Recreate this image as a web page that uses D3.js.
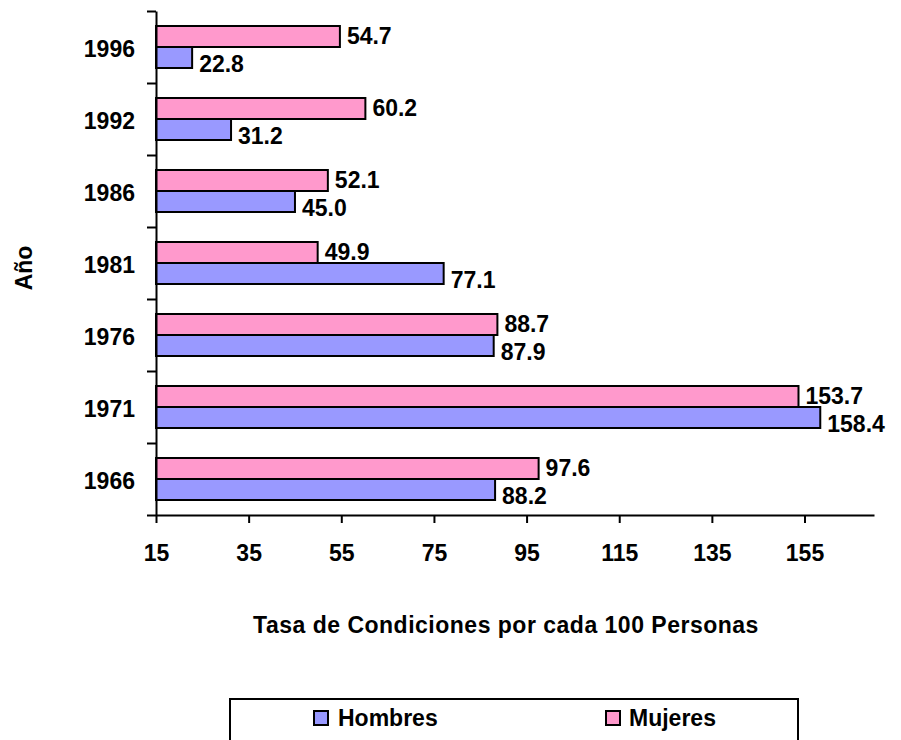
<!DOCTYPE html>
<html>
<head>
<meta charset="utf-8">
<script src="https://cdn.jsdelivr.net/npm/d3@7"></script>
<style>
body { margin: 0; background: #fff; }
text { font-family: "Liberation Sans", Arial, sans-serif; font-weight: bold; fill: #000; }
</style>
</head>
<body>
<div id="chart"></div>
<script>
// data, top to bottom as drawn
const years = ['1996','1992','1986','1981','1976','1971','1966'];
const hombres = [22.8, 31.2, 45.0, 77.1, 87.9, 158.4, 88.2];
const mujeres = [54.7, 60.2, 52.1, 49.9, 88.7, 153.7, 97.6];
const xTicks = [15, 35, 55, 75, 95, 115, 135, 155];
const series = ['Mujeres','Hombres'];
const colors = { Hombres: '#9999FF', Mujeres: '#FF99CC' };

const width = 901, height = 740;
const svg = d3.select('#chart').append('svg')
  .attr('width', width).attr('height', height);
svg.append('rect').attr('width', width).attr('height', height).attr('fill', '#fff');

const x = d3.scaleLinear().domain([15, 170]).range([156, 874]);
const y = d3.scaleBand().domain(years).range([11, 515]);
const sub = d3.scaleBand().domain(series).range([0, y.bandwidth()]).paddingOuter(0.714);
const yIdx = d3.scaleLinear().domain([0, years.length]).range([11, 515]);

const rows = years.map((yr,i) => ({ year: yr, Hombres: hombres[i], Mujeres: mujeres[i] }));

// bars
const g = svg.append('g');
rows.forEach(r => {
  series.forEach(s => {
    const y0 = y(r.year) + sub(s);
    g.append('rect')
      .attr('x', x(15)).attr('y', y0)
      .attr('width', x(r[s]) - x(15)).attr('height', sub.bandwidth())
      .attr('fill', colors[s]).attr('stroke', '#000').attr('stroke-width', 2);
    g.append('text')
      .attr('x', x(r[s]) + 7)
      .attr('y', y0 + sub.bandwidth()/2 + (s == 'Hombres' ? 14 : 8))
      .attr('font-size', 23)
      .text(r[s].toFixed(1));
  });
});

// x axis
const xa = svg.append('g').attr('transform', 'translate(0,515)')
  .call(d3.axisBottom(x).tickValues(xTicks).tickSize(8).tickSizeOuter(0).tickPadding(22));
xa.selectAll('text').attr('font-size', 23).attr('font-family', null).attr('fill', '#000');

// y axis: ticks between categories, labels centred
const ya = svg.append('g').attr('transform', 'translate(156,0)')
  .call(d3.axisLeft(yIdx).tickValues(d3.range(years.length + 1)).tickSize(9).tickSizeOuter(0).tickFormat(''));
svg.append('g').selectAll('text').data(years).enter().append('text')
  .attr('x', 135).attr('y', d => y(d) + y.bandwidth()/2 + 0.0)
  .attr('dy', '0.45em').attr('text-anchor', 'end').attr('font-size', 23)
  .text(d => d);
svg.selectAll('.domain, .tick line').attr('stroke', '#000').attr('stroke-width', 2);

// axis titles
svg.append('text').attr('x', 506).attr('y', 633).attr('text-anchor', 'middle')
  .attr('font-size', 23).attr('letter-spacing', 0.5)
  .text('Tasa de Condiciones por cada 100 Personas');
svg.append('text').attr('transform', 'translate(31.5,268) rotate(-90)')
  .attr('text-anchor', 'middle').attr('font-size', 23).text('Año');

// legend
const lg = svg.append('g');
lg.append('rect').attr('x', 230).attr('y', 699).attr('width', 568).attr('height', 50)
  .attr('fill', '#fff').attr('stroke', '#000').attr('stroke-width', 2);
[['Hombres', 314, 338], ['Mujeres', 606, 629]].forEach(([s, sx, tx]) => {
  lg.append('rect').attr('x', sx).attr('y', 711).attr('width', 14).attr('height', 14)
    .attr('fill', colors[s]).attr('stroke', '#000').attr('stroke-width', 2);
  lg.append('text').attr('x', tx).attr('y', 726).attr('font-size', 23).text(s);
});
</script>
</body>
</html>
